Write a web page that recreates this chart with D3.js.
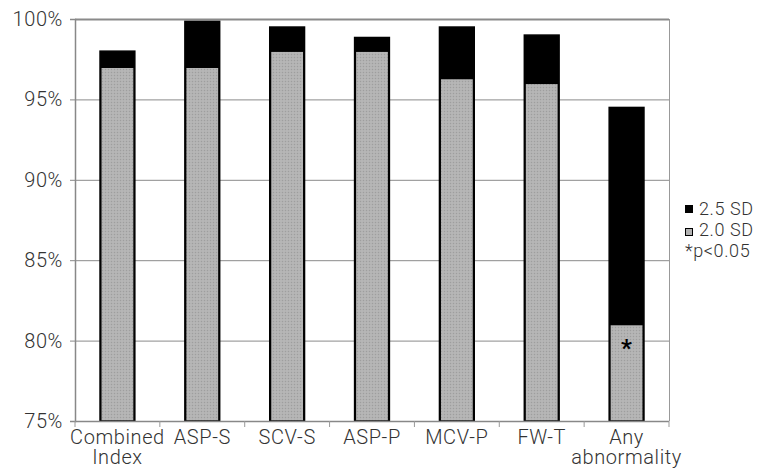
<!DOCTYPE html>
<html><head><meta charset="utf-8">
<script src="https://cdn.jsdelivr.net/npm/d3@7"></script>
<style>body{margin:0;background:#fff}svg{display:block}text{font-family:Roboto,"Liberation Sans",sans-serif;font-weight:300;fill:#333;letter-spacing:0.6px}</style>
</head><body><svg id="c" width="761" height="469"></svg>
<script>
const categories = [["Combined","Index"],["ASP-S"],["SCV-S"],["ASP-P"],["MCV-P"],["FW-T"],["Any","abnormality"]];
const sd20 = [97, 97, 98, 98, 96.3, 96, 81];
const sd25 = [98, 99.85, 99.5, 98.85, 99.5, 99, 94.5];
const significant = [false, false, false, false, false, false, true];
const yTicks = [75, 80, 85, 90, 95, 100];
const legendItems = [{label:"2.5 SD", key:"sd25"},{label:"2.0 SD", key:"sd20"}];
const noteLabel = "*p<0.05";

const svg = d3.select("#c");
const L = 75, R = 669, T = 19, B = 421;
const x = d3.scaleBand().domain(d3.range(categories.length)).range([L, R]).paddingInner(0.59).paddingOuter(0.295);
const xb = d3.scaleBand().domain(d3.range(categories.length)).range([L, R]);
const y = d3.scaleLinear().domain([75, 100]).range([B, T]);

const defs = svg.append("defs");
const pat = defs.append("pattern").attr("id","dots").attr("width",3).attr("height",3).attr("patternUnits","userSpaceOnUse");
pat.append("rect").attr("width",3).attr("height",3).attr("fill","#b2b2b2");
pat.append("rect").attr("width",1).attr("height",1).attr("fill","#9e9e9e");
pat.append("rect").attr("x",1.5).attr("y",1.5).attr("width",1).attr("height",1).attr("fill","#c2c2c2");

// gridlines
svg.append("g").selectAll("line").data(yTicks.filter(d=>d>75)).join("line")
  .attr("x1", L).attr("x2", R).attr("y1", d=>y(d)+0.5).attr("y2", d=>y(d)+0.5)
  .attr("stroke", "#8a8a8a").attr("stroke-width", d=>d===100?2:1);
// right border
svg.append("line").attr("x1",R+0.5).attr("x2",R+0.5).attr("y1",T).attr("y2",B).attr("stroke","#999");

// y axis
const ya = svg.append("g").attr("transform",`translate(${L},0)`)
  .call(d3.axisLeft(y).tickValues(yTicks).tickFormat(d=>d+"%").tickSize(5).tickPadding(7));
ya.select(".domain").attr("stroke","#888").attr("stroke-width",1.5);
ya.selectAll(".tick line").attr("stroke","#888");
ya.selectAll("text").attr("font-size",20).attr("font-family","Roboto,sans-serif").attr("font-weight",300).attr("fill","#333");

// bars
const g = svg.append("g");
g.selectAll("rect.b25").data(sd25).join("rect").attr("class","b25")
  .attr("x",(d,i)=>x(i)).attr("width",x.bandwidth())
  .attr("y",d=>y(d)).attr("height",d=>B-y(d))
  .attr("fill","#000").attr("stroke","#000").attr("stroke-width",1.5);
g.selectAll("rect.b20").data(sd20).join("rect").attr("class","b20")
  .attr("x",(d,i)=>x(i)+0.75).attr("width",x.bandwidth()-1.5)
  .attr("y",d=>y(d)).attr("height",d=>B-y(d))
  .attr("fill","url(#dots)").attr("stroke","#000").attr("stroke-width",1.5);
g.selectAll("text.sig").data(sd20.map((d,i)=>({d,i})).filter(o=>significant[o.i])).join("text").attr("class","sig")
  .attr("x",o=>x(o.i)+x.bandwidth()/2).attr("y",o=>y(o.d)+31)
  .attr("text-anchor","middle").attr("font-size",24).style("font-weight",700).style("fill","#000").style("letter-spacing","0").text("*");

// x axis
const xa = svg.append("g").attr("transform",`translate(0,${B})`);
xa.append("line").attr("x1",L).attr("x2",R).attr("y1",0.5).attr("y2",0.5).attr("stroke","#888").attr("stroke-width",1.5);
xa.selectAll("line.t").data(d3.range(categories.length+1)).join("line").attr("class","t")
  .attr("x1",i=>L+i*xb.bandwidth()).attr("x2",i=>L+i*xb.bandwidth()).attr("y1",0).attr("y2",6).attr("stroke","#999");
const lab = xa.selectAll("text.lab").data(categories).join("text").attr("class","lab")
  .attr("text-anchor","middle").attr("font-size",20)
  .attr("transform",(d,i)=>`translate(${xb(i)+xb.bandwidth()/2},23)`);
lab.selectAll("tspan").data(d=>d).join("tspan").attr("x",0).attr("dy",(d,j)=>j===0?0:20).text(d=>d);

// legend
const lg = svg.append("g").attr("transform","translate(685,0)");
lg.append("rect").attr("x",0.5).attr("y",205.5).attr("width",7).attr("height",7).attr("fill","#000").attr("stroke","#000");
lg.append("rect").attr("x",0.5).attr("y",228.5).attr("width",7).attr("height",7).attr("fill","#b2b2b2").attr("stroke","#000");
lg.selectAll("text.l").data(legendItems).join("text").attr("class","l")
  .attr("x",14).attr("y",(d,i)=>215+i*21).attr("font-size",18).text(d=>d.label);
lg.append("text").attr("x",0).attr("y",257).attr("font-size",18).text(noteLabel);
</script></body></html>
